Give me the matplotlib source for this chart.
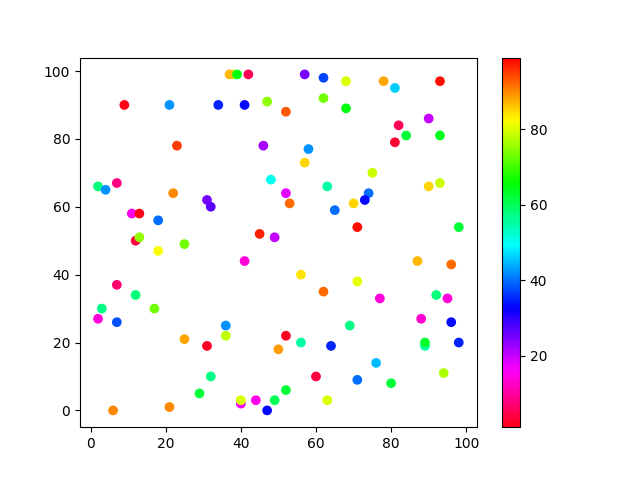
import matplotlib
matplotlib.use("Agg")
import matplotlib.pyplot as plt

# values
x = [38, 37, 39, 42, 9, 21, 34, 41, 47, 23, 46, 48, 2, 4, 7, 22, 31, 32, 11, 13,
     18, 45, 49, 12, 13, 25, 18, 57, 62, 68, 78, 81, 93, 62, 68, 52, 90, 82, 84, 81,
     93, 58, 57, 75, 63, 90, 93, 52, 53, 74, 73, 65, 70, 71, 98, 41, 7, 12, 3, 17,
     2, 7, 36, 36, 25, 31, 50, 32, 29, 40, 40, 44, 49, 47, 6, 21, 87, 96, 56, 71,
     62, 77, 92, 95, 69, 88, 96, 52, 56, 64, 89, 89, 98, 76, 60, 71, 80, 94, 52, 63]
y = [99, 99, 99, 99, 90, 90, 90, 90, 91, 78, 78, 68, 66, 65, 67, 64, 62, 60, 58, 58,
     56, 52, 51, 50, 51, 49, 47, 99, 98, 97, 97, 95, 97, 92, 89, 88, 86, 84, 81, 79,
     81, 77, 73, 70, 66, 66, 67, 64, 61, 64, 62, 59, 61, 54, 54, 44, 37, 34, 30, 30,
     27, 26, 25, 22, 21, 19, 18, 10, 5, 2, 3, 3, 3, 0, 0, 1, 44, 43, 40, 38,
     35, 33, 34, 33, 25, 27, 26, 22, 20, 19, 19, 20, 20, 14, 10, 9, 8, 11, 6, 3]
colors = [80, 87, 65, 5, 1, 42, 35, 33, 75, 95, 22, 50, 58, 42, 8, 90, 25, 27, 15, 1,
          40, 97, 20, 4, 75, 73, 82, 25, 37, 80, 88, 46, 98, 73, 65, 93, 20, 5, 62, 3,
          64, 42, 85, 79, 55, 85, 79, 18, 92, 40, 33, 40, 85, 98, 62, 14, 7, 58, 57, 73,
          14, 38, 42, 78, 88, 2, 89, 57, 62, 17, 80, 15, 60, 33, 90, 90, 87, 92, 84, 81,
          92, 14, 58, 14, 57, 13, 33, 2, 55, 35, 55, 63, 35, 45, 4, 40, 62, 77, 62, 80]

plt.figure(figsize=(6.4, 4.8), dpi=100)
plt.scatter(x, y, c=colors, cmap="hsv_r", vmin=1, vmax=99)
plt.colorbar()
plt.savefig("out.png")
